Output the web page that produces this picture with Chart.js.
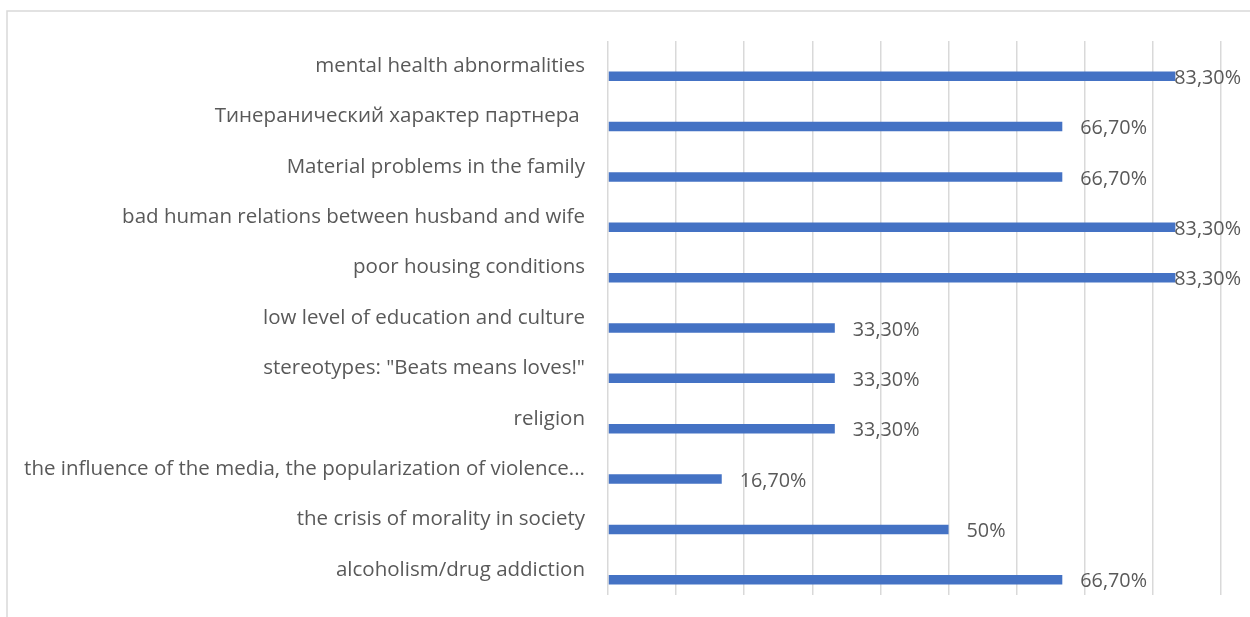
<!DOCTYPE html>
<html>
<head>
<meta charset="utf-8">
<script src="https://cdn.jsdelivr.net/npm/chart.js@4.4.1/dist/chart.umd.min.js"></script>
<style>
  html, body { margin: 0; padding: 0; background: #fff; }
  #wrap { width: 1250px; height: 617px; position: relative; }
</style>
</head>
<body>
<div id="wrap"><canvas id="factorsChart" width="1250" height="617"></canvas></div>
<script>
// Categories, top to bottom
const categories = [
  'mental health abnormalities',
  'Тинеранический характер партнера ',
  'Material problems in the family',
  'bad human relations between husband and wife',
  'poor housing conditions',
  'low level of education and culture',
  'stereotypes: "Beats means loves!"',
  'religion',
  'the influence of the media, the popularization of violence...',
  'the crisis of morality in society',
  'alcoholism/drug addiction'
];

// Percent values
const shares = [83.3, 66.7, 66.7, 83.3, 83.3, 33.3, 33.3, 33.3, 16.7, 50, 66.7];

// Empty companion series (keeps bars in the lower half of each category, like the original)
const spacer = categories.map(() => null);

const xMax = 90;
const xStep = 10;

const TEXT = '#595959';
const GRID = '#d9d9d9';
const FONT = 'Open Sans';

function formatShare(v) {
  if (Number.isInteger(v)) return v + '%';
  return v.toFixed(2).replace('.', ',') + '%';
}

// Outer frame of the chart (top and left edges only are visible)
const framePlugin = {
  id: 'frame',
  beforeDraw(chart) {
    const ctx = chart.ctx;
    ctx.save();
    ctx.strokeStyle = GRID;
    ctx.lineWidth = 1.5;
    ctx.beginPath();
    ctx.moveTo(7, 617);
    ctx.lineTo(7, 11);
    ctx.lineTo(1250, 11);
    ctx.stroke();
    ctx.restore();
  }
};

// Value labels at the end of each bar
const valueLabels = {
  id: 'valueLabels',
  afterDatasetsDraw(chart) {
    const ctx = chart.ctx;
    const meta = chart.getDatasetMeta(1);
    ctx.save();
    ctx.font = '19.8px ' + FONT;
    ctx.fillStyle = TEXT;
    ctx.textBaseline = 'middle';
    ctx.textAlign = 'left';
    meta.data.forEach((bar, i) => {
      const txt = formatShare(shares[i]);
      const w = ctx.measureText(txt).width;
      let x = bar.x + 18;
      if (x + w > 1241) x = 1241 - w;
      ctx.fillText(txt, x, bar.y + 2);
    });
    ctx.restore();
  }
};

new Chart(document.getElementById('factorsChart'), {
  type: 'bar',
  data: {
    labels: categories,
    datasets: [
      {
        label: 'spacer',
        data: spacer,
        backgroundColor: '#4472C4'
      },
      {
        label: 'Share',
        data: shares,
        backgroundColor: '#4472C4'
      }
    ]
  },
  options: {
    indexAxis: 'y',
    responsive: false,
    animation: false,
    categoryPercentage: 0.794,
    barPercentage: 0.475,
    layout: {
      padding: { left: 0, right: 29, top: 41, bottom: 22 }
    },
    scales: {
      x: {
        min: 0,
        max: xMax,
        ticks: { display: false, stepSize: xStep },
        grid: { color: GRID, lineWidth: 1.5, drawTicks: false },
        border: { display: false },
        afterFit(scale) { scale.height = 0; }
      },
      y: {
        ticks: {
          color: TEXT,
          font: { family: FONT, size: 20.5 },
          padding: 23,
          autoSkip: false
        },
        grid: { display: false, drawTicks: false },
        border: { display: false },
        afterFit(scale) {
          scale.width = 608;
          scale.paddingTop = 0;
          scale.paddingBottom = 0;
        }
      }
    },
    plugins: {
      legend: { display: false },
      tooltip: { enabled: false }
    }
  },
  plugins: [framePlugin, valueLabels]
});
</script>
</body>
</html>
